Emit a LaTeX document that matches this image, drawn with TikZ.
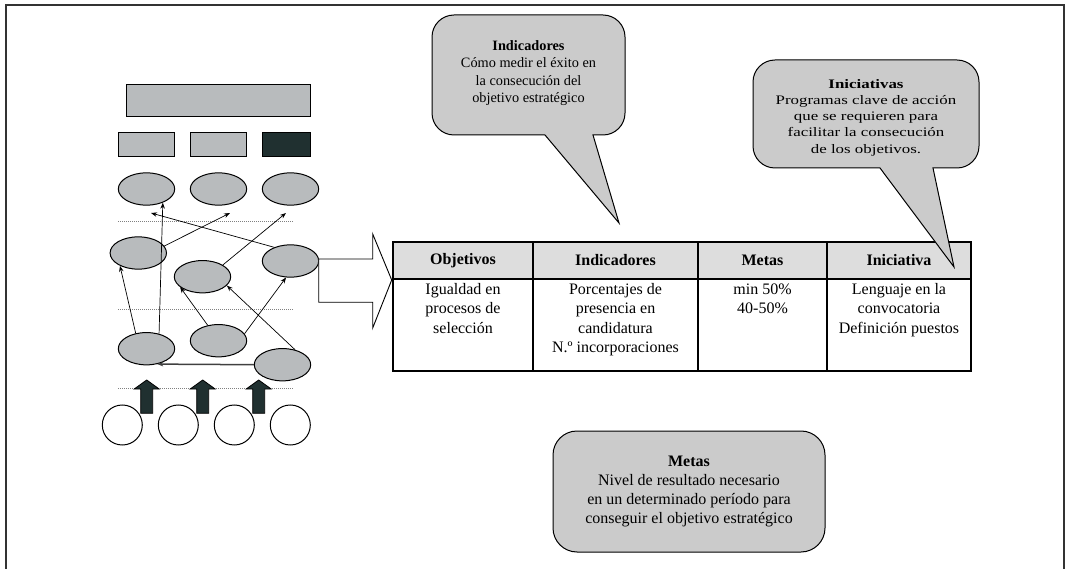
\documentclass[tikz,border=0pt]{standalone}
\usepackage{fontspec}
\setmainfont{Liberation Serif}
\newfontfamily\widefont[FakeStretch=1.3]{Liberation Serif}
\usetikzlibrary{shapes.geometric, arrows.meta}
\definecolor{shapegray}{RGB}{184,187,189}
\definecolor{darkfill}{RGB}{32,48,48}
\definecolor{balloongray}{RGB}{203,203,203}
\definecolor{headgray}{RGB}{221,221,221}

\begin{document}
\begin{tikzpicture}[
  x=1pt, y=-1pt,
  oval/.style={draw, ellipse, fill=shapegray, line width=1pt, minimum width=56.4pt, minimum height=32.3pt, inner sep=0pt},
  bar/.style={draw, rectangle, fill=shapegray, line width=1pt, minimum height=24.4pt, inner sep=0pt},
  ring/.style={draw, circle, fill=white, line width=1pt, minimum size=40pt, inner sep=0pt},
  sep/.style={gray, line width=0.8pt, dash pattern=on 1pt off 1pt},
  arrow/.style={-{Stealth[length=6pt, width=4.5pt]}, line width=0.7pt},
  flatarrow/.style={-{Stealth[length=6pt, width=4.5pt]}, line width=1.5pt, black!75},
  uparrow/.style={draw, fill=darkfill, line width=0.8pt},
  bigarrow/.style={draw, fill=white, line width=0.9pt},
  balloon/.style={draw, fill=balloongray, line width=1pt},
  note/.style={align=center, inner sep=0pt},
  head/.style={draw, fill=headgray, line width=1.3pt, font=\bfseries\fontsize{16}{19.2}\selectfont, minimum height=37pt, inner sep=0pt},
  cell/.style={draw, line width=1.3pt, minimum height=92pt, inner sep=0pt},
  celltext/.style={anchor=north, align=center, font=\fontsize{16}{19.2}\selectfont, inner sep=5pt},
  frame/.style={line width=1.2pt, black!80}
]
\useasboundingbox (0,0) rectangle (1066,569);

% Frame (open at the bottom)
\draw[frame] (6,569) -- (6,5) -- (1064,5) -- (1064,569);

% Left map: boxes
\node[bar, minimum width=184.7pt, minimum height=32.4pt] (top) at (218.4,100.5) {};
\node[bar, minimum width=56.4pt] (sq1) at (146.5,144.5) {};
\node[bar, minimum width=56.4pt] (sq2) at (218.5,144.5) {};
\node[bar, minimum width=48.4pt, fill=darkfill] (sq3) at (286.5,144.5) {};

% Left map: ovals
\node[oval] (ov1) at (146.5,189) {};
\node[oval] (ov2) at (218.5,189) {};
\node[oval] (ov3) at (290.5,189) {};

\node[oval] (mid1) at (138.3,253) {};
\node[oval] (mid2) at (202.5,276.7) {};
\node[oval] (mid3) at (290.5,261) {};

\node[oval] (low1) at (146.5,348.7) {};
\node[oval] (low2) at (218.5,340.7) {};
\node[oval] (low3) at (282.5,364.7) {};

% Left map: circles
\node[ring] (c1) at (122.3,425) {};
\node[ring] (c2) at (178.3,425) {};
\node[ring] (c3) at (234.3,425) {};
\node[ring] (c4) at (290.3,425) {};

% Dotted separators
\draw[sep] (118,221) -- (293,221);
\draw[sep] (118,309) -- (293,309);
\draw[sep] (118,388.7) -- (293,388.7);

% Links
\coordinate (p1) at (151,213);
\coordinate (p2) at (230,213);
\coordinate (p3) at (286,213);
\draw[arrow] (mid3.140) -- (p1);
\draw[arrow] (mid1.15) -- (p2);
\draw[arrow] (mid2.30) -- (p3);
\draw[arrow] (low1.50) -- (ov1.320);
\draw[arrow] (low1.125) -- (mid1.215);
\draw[arrow] (low2.125) -- (mid2.205);
\draw[arrow] (low3.50) -- (mid2.340);
\draw[arrow] (low2.15) -- (mid3.255);
\draw[flatarrow] (low3.west) -- (low1.305);

% Upward block arrows
\draw[uparrow] (146.7,380) -- (159.2,389) -- (152.7,389) -- (152.7,413.3) -- (140.7,413.3) -- (140.7,389) -- (134.2,389) -- cycle;
\draw[uparrow] (202.7,380) -- (215.2,389) -- (208.7,389) -- (208.7,413.3) -- (196.7,413.3) -- (196.7,389) -- (190.2,389) -- cycle;
\draw[uparrow] (258.7,380) -- (271.2,389) -- (264.7,389) -- (264.7,413.3) -- (252.7,413.3) -- (252.7,389) -- (246.2,389) -- cycle;

% Block arrow to the table
\draw[bigarrow] (318.7,259) -- (372.7,259) -- (372.7,234) -- (391.7,280) -- (372.7,328) -- (372.7,302.3) -- (318.7,302.3) -- cycle;

% Table: header row
\node[head, minimum width=140pt] (h1) at (463,260.5) {Objetivos};
\node[head, minimum width=165pt] (h2) at (615.5,260.5) {Indicadores};
\node[head, minimum width=129pt] (h3) at (762.5,260.5) {Metas};
\node[head, minimum width=144pt] (h4) at (899,260.5) {Iniciativa};

% Table: body row
\node[cell, minimum width=140pt] (r1) at (463,325) {};
\node[cell, minimum width=165pt] (r2) at (615.5,325) {};
\node[cell, minimum width=129pt] (r3) at (762.5,325) {};
\node[cell, minimum width=144pt] (r4) at (899,325) {};
\node[celltext] (t1) at (r1.north) {Igualdad en\\procesos de\\selección};
\node[celltext] (t2) at (r2.north) {Porcentajes de\\presencia en\\candidatura\\N.º incorporaciones};
\node[celltext] (t3) at (r3.north) {min 50\%\\40-50\%};
\node[celltext] (t4) at (r4.north) {Lenguaje en la\\convocatoria\\Definición puestos};

% Callouts
\draw[balloon] (545,135) [rounded corners=22pt] -- (432,135) -- (432,15) -- (625,15) -- (625,135) [sharp corners] -- (593,135) -- (619,223) -- cycle;
\node[note, font=\fontsize{14.3}{17.5}\selectfont] (ind) at (528.5,73) {\textbf{Indicadores}\\Cómo medir el éxito en\\la consecución del\\objetivo estratégico};

\draw[balloon] (880,168) [rounded corners=22pt] -- (753,168) -- (753,60) -- (979,60) -- (979,168) [sharp corners] -- (933,168) -- (954,267) -- cycle;
\node[note, font=\widefont\fontsize{13}{16.2}\selectfont] (ini) at (866,117.5) {\textbf{Iniciativas}\\Programas clave de acción\\que se requieren para\\facilitar la consecución\\de los objetivos.};

\node[balloon, note, rounded corners=24pt, minimum width=272pt, minimum height=121pt, font=\fontsize{16}{19.3}\selectfont] (met) at (689,491.5) {\textbf{Metas}\\Nivel de resultado necesario\\en un determinado período para\\conseguir el objetivo estratégico};

\end{tikzpicture}
\end{document}
